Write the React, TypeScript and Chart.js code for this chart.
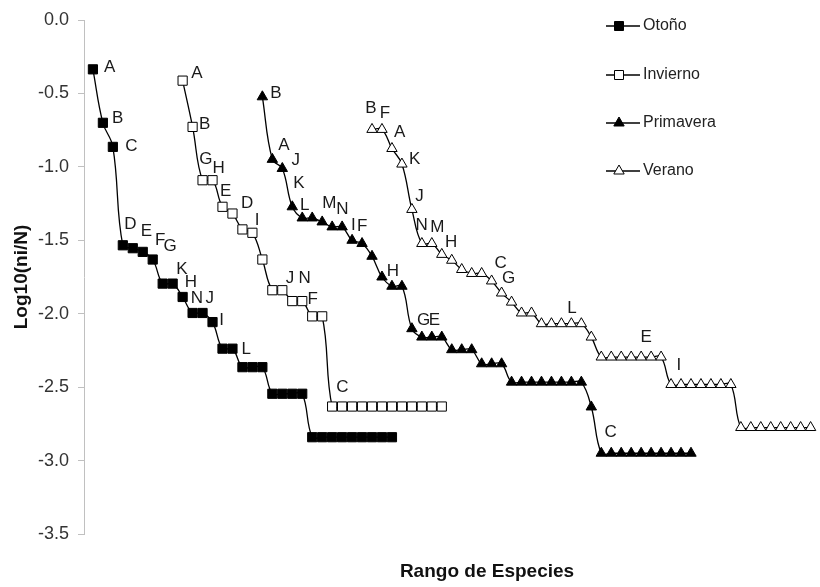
import React, { useEffect, useRef } from "react";
import { Chart, registerables } from "chart.js";

Chart.register(...registerables);

// ---- Data (Log10(ni/N) by species rank) ----
const otonoStartRank = 1;
const otonoValues = [
  -0.336, -0.7, -0.864, -1.534, -1.554, -1.579, -1.631, -1.795, -1.795, -1.886,
  -1.995, -1.995, -2.057, -2.238, -2.238, -2.364, -2.364, -2.364, -2.545, -2.545,
  -2.545, -2.545, -2.841, -2.841, -2.841, -2.841, -2.841, -2.841, -2.841, -2.841,
  -2.841,
];

const inviernoStartRank = 10;
const inviernoValues = [
  -0.413, -0.728, -1.091, -1.091, -1.272, -1.318, -1.426, -1.449, -1.631, -1.84,
  -1.84, -1.914, -1.914, -2.018, -2.018, -2.632, -2.632, -2.632, -2.632, -2.632,
  -2.632, -2.632, -2.632, -2.632, -2.632, -2.632, -2.632,
];

const primaveraStartRank = 18;
const primaveraValues = [
  -0.523, -0.949, -1.011, -1.272, -1.348, -1.348, -1.375, -1.409, -1.409, -1.5,
  -1.522, -1.609, -1.75, -1.813, -1.813, -2.102, -2.159, -2.159, -2.159, -2.245,
  -2.245, -2.245, -2.341, -2.341, -2.341, -2.466, -2.466, -2.466, -2.466, -2.466,
  -2.466, -2.466, -2.466, -2.635, -2.95, -2.95, -2.95, -2.95, -2.95, -2.95,
  -2.95, -2.95, -2.95, -2.95,
];

const veranoStartRank = 29;
const veranoValues = [
  -0.745, -0.745, -0.875, -0.981, -1.29, -1.522, -1.522, -1.596, -1.636, -1.699,
  -1.726, -1.726, -1.777, -1.859, -1.921, -1.995, -1.995, -2.068, -2.068, -2.068,
  -2.068, -2.068, -2.159, -2.295, -2.295, -2.295, -2.295, -2.295, -2.295, -2.295,
  -2.482, -2.482, -2.482, -2.482, -2.482, -2.482, -2.482, -2.775, -2.775, -2.775,
  -2.775, -2.775, -2.775, -2.775, -2.775,
];

// Species letter annotations (rank, log value)
const otonoLetters = [
  { t: "A", x: 2.69, y: -0.321 },
  { t: "B", x: 3.48, y: -0.668 },
  { t: "C", x: 4.87, y: -0.859 },
  { t: "D", x: 4.77, y: -1.39 },
  { t: "E", x: 6.36, y: -1.438 },
  { t: "F", x: 7.75, y: -1.5 },
  { t: "G", x: 8.75, y: -1.54 },
  { t: "K", x: 9.94, y: -1.697 },
  { t: "H", x: 10.83, y: -1.786 },
  { t: "N", x: 11.43, y: -1.896 },
  { t: "J", x: 12.72, y: -1.896 },
  { t: "I", x: 13.92, y: -2.046 },
  { t: "L", x: 16.39, y: -2.243 },
];
const inviernoLetters = [
  { t: "A", x: 11.43, y: -0.361 },
  { t: "B", x: 12.22, y: -0.709 },
  { t: "G", x: 12.32, y: -0.947 },
  { t: "H", x: 13.61, y: -1.008 },
  { t: "E", x: 14.31, y: -1.166 },
  { t: "D", x: 16.48, y: -1.247 },
  { t: "I", x: 17.48, y: -1.363 },
  { t: "J", x: 20.76, y: -1.759 },
  { t: "N", x: 22.25, y: -1.759 },
  { t: "F", x: 23.05, y: -1.902 },
  { t: "C", x: 26.02, y: -2.502 },
];
const primaveraLetters = [
  { t: "B", x: 19.37, y: -0.498 },
  { t: "A", x: 20.17, y: -0.853 },
  { t: "J", x: 21.36, y: -0.954 },
  { t: "K", x: 21.66, y: -1.111 },
  { t: "L", x: 22.25, y: -1.261 },
  { t: "M", x: 24.73, y: -1.247 },
  { t: "N", x: 26.02, y: -1.288 },
  { t: "I", x: 27.12, y: -1.397 },
  { t: "F", x: 28.01, y: -1.404 },
  { t: "H", x: 31.09, y: -1.711 },
  { t: "G", x: 34.17, y: -2.045 },
  { t: "E", x: 35.26, y: -2.045 },
  { t: "C", x: 52.93, y: -2.809 },
];
const veranoLetters = [
  { t: "B", x: 28.9, y: -0.6 },
  { t: "F", x: 30.29, y: -0.634 },
  { t: "A", x: 31.78, y: -0.764 },
  { t: "K", x: 33.27, y: -0.947 },
  { t: "J", x: 33.77, y: -1.2 },
  { t: "N", x: 33.97, y: -1.397 },
  { t: "M", x: 35.55, y: -1.411 },
  { t: "H", x: 36.94, y: -1.513 },
  { t: "C", x: 41.91, y: -1.657 },
  { t: "G", x: 42.71, y: -1.759 },
  { t: "L", x: 49.06, y: -1.963 },
  { t: "E", x: 56.51, y: -2.161 },
  { t: "I", x: 59.78, y: -2.352 },
];

const seriesNames = ["Otoño", "Invierno", "Primavera", "Verano"];
const yTitle = "Log10(ni/N)";
const xTitle = "Rango de Especies";

const FONT = '"Liberation Sans", Arial, Helvetica, sans-serif';

const toPoints = (start: number, values: number[]) =>
  values.map((v, i) => ({ x: start + i, y: v }));

const letterPlugin = {
  id: "speciesLetters",
  afterDatasetsDraw(chart: any) {
    const { ctx, scales } = chart;
    const xs = scales.x;
    const ys = scales.y;
    ctx.save();
    ctx.font = `17px ${FONT}`;
    ctx.fillStyle = "#1a1a1a";
    ctx.textAlign = "center";
    ctx.textBaseline = "middle";
    [otonoLetters, inviernoLetters, primaveraLetters, veranoLetters].forEach((g) =>
      g.forEach((l) => ctx.fillText(l.t, xs.getPixelForValue(l.x), ys.getPixelForValue(l.y)))
    );
    ctx.restore();
  },
};

const legendAndTitlePlugin = {
  id: "excelLegend",
  afterDraw(chart: any) {
    const { ctx } = chart;
    const items = [
      { name: seriesNames[0], shape: "rect", filled: true },
      { name: seriesNames[1], shape: "rect", filled: false },
      { name: seriesNames[2], shape: "tri", filled: true },
      { name: seriesNames[3], shape: "tri", filled: false },
    ];
    const rowsY = [26, 75, 123, 171];
    ctx.save();
    items.forEach((it, i) => {
      const cy = rowsY[i];
      ctx.strokeStyle = "#000";
      ctx.lineWidth = 1.3;
      ctx.beginPath();
      ctx.moveTo(606, cy);
      ctx.lineTo(640, cy);
      ctx.stroke();
      const cx = 619;
      ctx.beginPath();
      if (it.shape === "rect") {
        ctx.rect(cx - 4.5, cy - 4.5, 9, 9);
      } else {
        ctx.moveTo(cx, cy - 6);
        ctx.lineTo(cx + 5.2, cy + 3);
        ctx.lineTo(cx - 5.2, cy + 3);
        ctx.closePath();
      }
      ctx.fillStyle = it.filled ? "#000" : "#fff";
      ctx.fill();
      ctx.lineWidth = 1;
      ctx.stroke();
      ctx.fillStyle = "#222";
      ctx.font = `16px ${FONT}`;
      ctx.textAlign = "left";
      ctx.textBaseline = "middle";
      ctx.fillText(it.name, 643, cy);
    });
    // x-axis title
    ctx.font = `bold 19px ${FONT}`;
    ctx.fillStyle = "#111";
    ctx.textAlign = "center";
    ctx.textBaseline = "middle";
    ctx.fillText(xTitle, 487, 572);
    ctx.restore();
  },
};

export default function App() {
  const ref = useRef<HTMLCanvasElement | null>(null);

  useEffect(() => {
    if (!ref.current) return;
    const mk = (
      label: string,
      start: number,
      values: number[],
      style: string,
      filled: boolean,
      radius: number
    ) => ({
      label,
      data: toPoints(start, values),
      borderColor: "#000",
      borderWidth: 1.3,
      tension: 0.4,
      fill: false,
      pointStyle: style,
      pointRadius: radius,
      pointBackgroundColor: filled ? "#000" : "#fff",
      pointBorderColor: "#000",
      pointBorderWidth: 1,
      clip: false,
    });

    const chart = new Chart(ref.current, {
      type: "line",
      data: {
        datasets: [
          mk(seriesNames[0], otonoStartRank, otonoValues, "rect", true, 6.5),
          mk(seriesNames[1], inviernoStartRank, inviernoValues, "rect", false, 6.5),
          mk(seriesNames[2], primaveraStartRank, primaveraValues, "triangle", true, 6),
          mk(seriesNames[3], veranoStartRank, veranoValues, "triangle", false, 6),
        ] as any,
      },
      options: {
        animation: false,
        responsive: false,
        maintainAspectRatio: false,
        layout: { padding: { top: 20, right: 0, left: 0, bottom: 0 } },
        plugins: {
          legend: { display: false },
          tooltip: { enabled: false },
        },
        scales: {
          x: {
            type: "linear",
            min: 0.106,
            max: 73.19,
            grid: { display: false, drawTicks: false },
            border: { display: false },
            ticks: { display: false },
            afterFit: (s: any) => {
              s.height = 53;
            },
          },
          y: {
            min: -3.5,
            max: 0,
            afterFit: (s: any) => {
              s.width = 84;
            },
            ticks: {
              stepSize: 0.5,
              padding: 9,
              color: "#333",
              font: { family: FONT, size: 18 },
              callback: (v: any) => Number(v).toFixed(1),
            },
            grid: { drawOnChartArea: false, tickLength: 6, color: "#c0c0c0" },
            border: { display: true, color: "#c0c0c0" },
            title: {
              display: true,
              text: yTitle,
              color: "#111",
              font: { family: FONT, size: 19, weight: "bold" },
              padding: { top: 10, bottom: 0 },
            },
          },
        },
      } as any,
      plugins: [letterPlugin, legendAndTitlePlugin],
    });
    return () => chart.destroy();
  }, []);

  return (
    <div style={{ position: "absolute", left: 0, top: 0, width: 820, height: 587, background: "#fff" }}>
      <canvas ref={ref} width={820} height={587} style={{ display: "block" }} />
    </div>
  );
}
